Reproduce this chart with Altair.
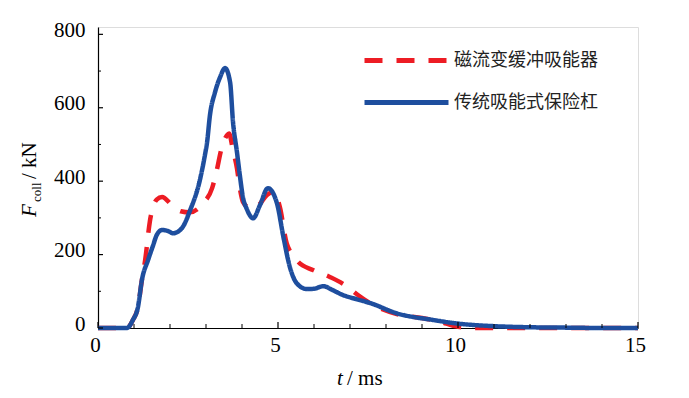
import altair as alt
import pandas as pd

RED_NAME = "磁流变缓冲吸能器"
BLUE_NAME = "传统吸能式保险杠"

blue_t = [0, 0.5, 0.8, 0.97, 1.11, 1.22, 1.39, 1.53, 1.63, 1.78, 1.95, 2.08, 2.33, 2.56, 2.83, 2.97,
          3.03, 3.11, 3.25, 3.39, 3.53, 3.67, 3.75, 3.86, 3.94, 4.03, 4.13, 4.31, 4.5, 4.72, 4.97,
          5.15, 5.33, 5.52, 5.8, 6.0, 6.26, 6.5, 6.8, 7.2, 7.56, 8.3, 9.3, 10.0, 11.0, 12.0, 13.0,
          14.0, 15.0]
blue_f = [0, 0, 0, 22, 57, 131, 185, 225, 253, 267, 264, 258, 272, 321, 403, 471,
          506, 580, 642, 683, 708, 669, 561, 479, 416, 354, 325, 299, 335, 381, 340,
          248, 166, 122, 106, 107, 114, 104, 90, 78, 68, 40, 22, 12, 5, 2, 1,
          0, 0]

red_t = [0, 0.5, 0.8, 0.97, 1.11, 1.22, 1.31, 1.44, 1.63, 1.78, 2.05, 2.3, 2.55, 2.92, 3.17, 3.3,
         3.42, 3.58, 3.64, 3.75, 3.86, 3.94, 4.03, 4.2, 4.4, 4.69, 4.88, 5.05, 5.24, 5.4, 5.56,
         5.97, 6.44, 6.86, 7.22, 7.64, 8.3, 9.0, 9.44, 10.0, 10.4, 11.0, 15.0]
red_f = [0, 0, 0, 22, 57, 131, 185, 290, 350, 357, 335, 318, 315, 340, 381, 430,
         485, 525, 530, 484, 435, 381, 343, 328, 330, 362, 372, 330, 231, 200, 180,
         158, 139, 117, 90, 63, 38, 27, 19, 3, 0, 0, 0]

x_major = [0, 5, 10, 15]
x_minor = [1, 2, 3, 4, 6, 7, 8, 9, 11, 12, 13, 14]
y_major = [0, 200, 400, 600, 800]
y_minor = [100, 300, 500, 700]

W, H = 540, 301
FONT = "Liberation Serif"
RED, BLUE = "#ED1C24", "#1E4E9E"

red_df = pd.DataFrame({"t": red_t, "F": red_f, "series": RED_NAME, "o": range(len(red_t))})
blue_df = pd.DataFrame({"t": blue_t, "F": blue_f, "series": BLUE_NAME, "o": range(len(blue_t))})

xs = alt.Scale(domain=[0, 15], nice=False)
ys = alt.Scale(domain=[0, 820], nice=False)

xaxis = alt.Axis(values=x_major, title=None, labelOffset=-3, labelPadding=6, labelFlush=False,
                 labelFont=FONT)
yaxis = alt.Axis(values=y_major, title=None, labelOffset=-4, labelPadding=13, labelFont=FONT)


def series_line(df, name, col, dash_pat, ly):
    leg = alt.Legend(title=None, orient="none", legendX=264, legendY=ly)
    return alt.Chart(df).mark_line(strokeWidth=4.5, interpolate="monotone").encode(
        x=alt.X("t:Q", scale=xs, axis=xaxis), y=alt.Y("F:Q", scale=ys, axis=yaxis),
        color=alt.Color("series:N", scale=alt.Scale(domain=[name], range=[col]), legend=leg),
        strokeDash=alt.StrokeDash("series:N", scale=alt.Scale(domain=[name], range=[dash_pat]), legend=leg),
        order="o:Q")


red_line = series_line(red_df, RED_NAME, RED, [18, 14], -11)
blue_line = series_line(blue_df, BLUE_NAME, BLUE, [1, 0], 31)

xmaj = alt.Chart(pd.DataFrame({"t": x_major})).mark_rule(color="black", strokeWidth=1.2).encode(
    x=alt.X("t:Q", scale=xs), y=alt.value(H), y2=alt.value(H - 6))
xmin = alt.Chart(pd.DataFrame({"t": x_minor})).mark_rule(color="black", strokeWidth=1).encode(
    x=alt.X("t:Q", scale=xs), y=alt.value(H), y2=alt.value(H - 4))
ymaj = alt.Chart(pd.DataFrame({"F": y_major})).mark_rule(color="black", strokeWidth=1.2).encode(
    y=alt.Y("F:Q", scale=ys), x=alt.value(0), x2=alt.value(5))
ymin = alt.Chart(pd.DataFrame({"F": y_minor})).mark_rule(color="black", strokeWidth=1).encode(
    y=alt.Y("F:Q", scale=ys), x=alt.value(0), x2=alt.value(3))


def txt(s, x, y, size, italic=False, angle=0):
    return alt.Chart(pd.DataFrame({"s": [s]})).mark_text(
        font=FONT, fontSize=size, fontStyle="italic" if italic else "normal", color="black",
        align="left", baseline="alphabetic", angle=angle).encode(
        text="s:N", x=alt.value(x), y=alt.value(y))


titles = [
    txt("F", -62, 190, 21, italic=True, angle=270),
    txt("coll", -57, 175, 13, angle=270),
    txt("/ kN", -62, 152, 21, angle=270),
    txt("t", 239, 358, 21, italic=True),
    txt("/ ms", 249, 358, 21),
]

chart = alt.layer(red_line, blue_line, xmaj, xmin, ymaj, ymin, *titles).resolve_scale(
    color="independent", strokeDash="independent"
).properties(
    width=W, height=H,
    autosize=alt.AutoSizeParams(type="none"),
    padding={"left": 90, "top": 19, "right": 40, "bottom": 68},
).configure_view(stroke=None).configure(background="white").configure_axis(
    ticks=False, grid=False, labelFont=FONT, labelFontSize=21, labelColor="black",
    domainColor="black", domainWidth=1.2
).configure_legend(
    symbolType="stroke", symbolSize=7056, symbolStrokeWidth=5,
    labelFont="Noto Sans CJK SC", labelFontSize=18, labelColor="#222",
    labelOffset=3
)

chart.save("out.html", embed_options={"renderer": "svg", "actions": False})
